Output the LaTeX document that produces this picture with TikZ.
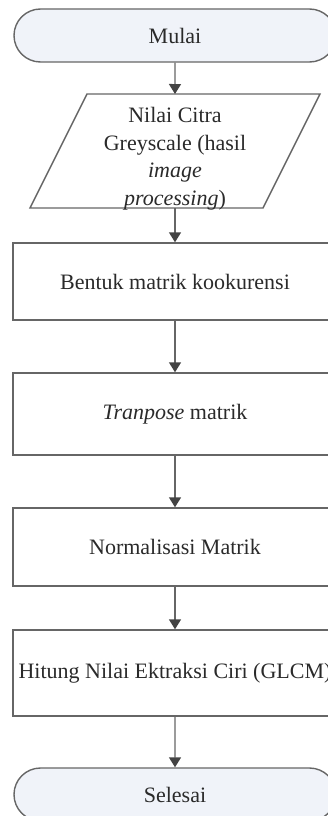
\documentclass[tikz,border=0pt]{standalone}
\usepackage{fontspec}
\setmainfont{Liberation Serif}
\usetikzlibrary{shapes.misc,arrows.meta}
\definecolor{edge}{HTML}{666666}
\definecolor{tipc}{HTML}{434343}
\definecolor{termfill}{HTML}{F0F3F9}
\definecolor{ink}{HTML}{2A2A2A}
\begin{document}
\begin{tikzpicture}[x=1pt,y=-1pt,
  label/.style={text=ink, font=\fontsize{22}{27.5}\selectfont,
    align=center, inner sep=0pt},
  base/.style={label, draw=edge, line width=1.4pt},
  terminal/.style={base, rounded rectangle, fill=termfill,
    minimum width=322pt, minimum height=53pt},
  process/.style={base, rectangle, fill=white, minimum width=324pt},
  outline/.style={draw=edge, line width=1.4pt, fill=white, line join=miter},
  flow/.style={draw=edge, line width=1.4pt,
    -{Triangle[length=10pt,width=12pt,color=tipc]}}]
\useasboundingbox (0,0) rectangle (328,816);
\clip (0,0) rectangle (328,816);

\node[terminal] (start) at (175,35.5) {Mulai};

% input/output parallelogram
\coordinate (intop) at (175,94);
\coordinate (inbot) at (175,208);
\draw[outline] (87,94) -- (320,94) -- (263,208) -- (30,208) -- cycle;
\node[label] (input) at (175,158.5)
  {Nilai Citra\\Greyscale (hasil\\\textit{image}\\\textit{processing})};

\node[process, minimum height=77pt] (cooc) at (175,281.5) {Bentuk matrik kookurensi};
\node[process, minimum height=82pt] (trans) at (175,414) {\textit{Tranpose} matrik};
\node[process, minimum height=78pt] (norm) at (175,547) {Normalisasi Matrik};
\node[process, minimum height=86pt] (glcm) at (175,673) {Hitung Nilai Ektraksi Ciri (GLCM)};
\node[terminal] (stop) at (175,794.5) {Selesai};

\draw[flow] (start) -- (intop);
\draw[flow] (inbot) -- (cooc);
\draw[flow] (cooc) -- (trans);
\draw[flow] (trans) -- (norm);
\draw[flow] (norm) -- (glcm);
\draw[flow] (glcm) -- (stop);
\end{tikzpicture}
\end{document}
